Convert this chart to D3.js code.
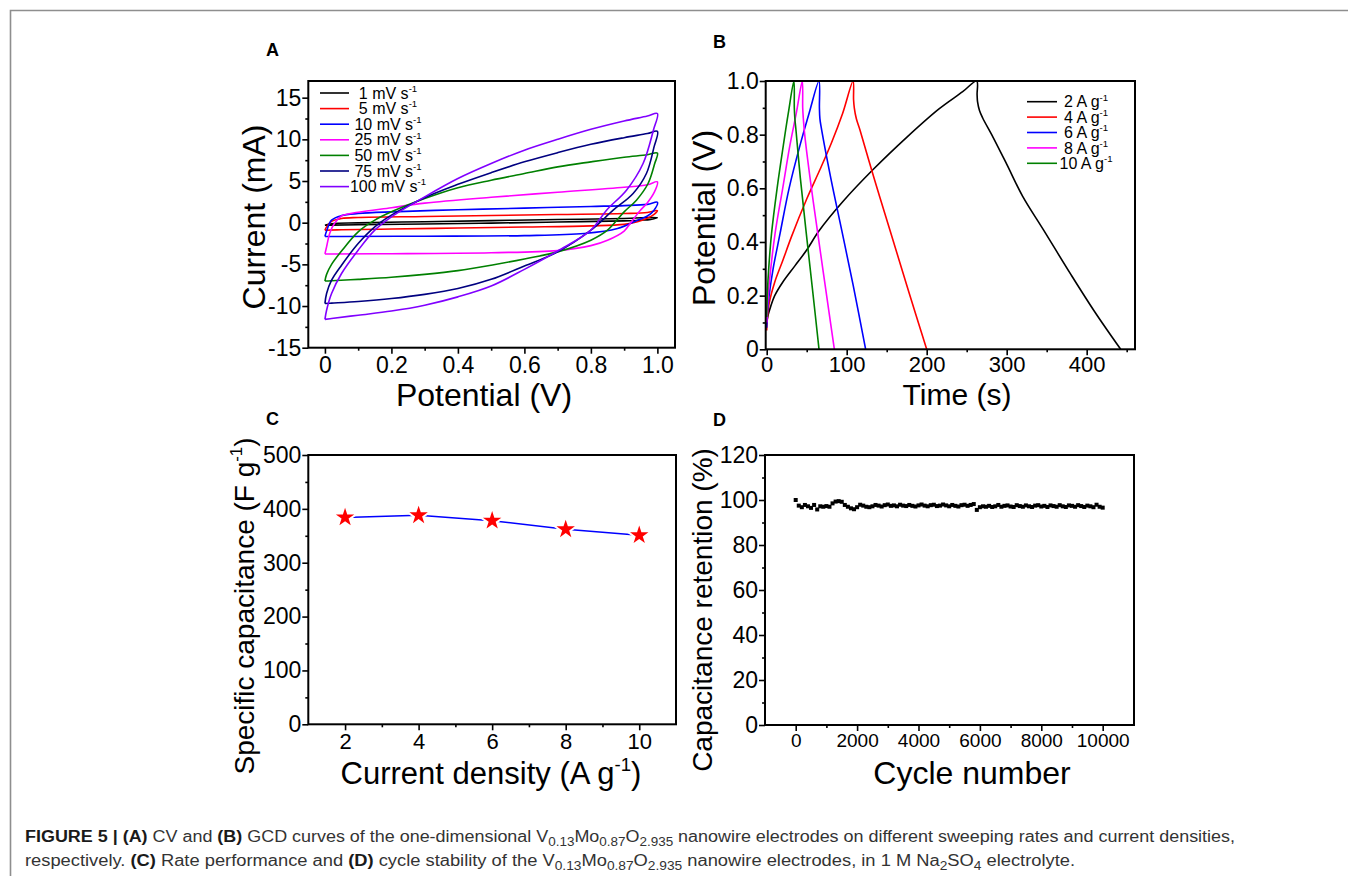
<!DOCTYPE html>
<html><head><meta charset="utf-8">
<script src="https://cdn.jsdelivr.net/npm/d3@7"></script>
<style>
body{margin:0;background:#fff}
svg{display:block}
text{font-family:"Liberation Sans",Arial,Helvetica,sans-serif}
</style></head>
<body><svg id="c" width="1348" height="876"></svg>
<script>
// ---------------- DATA ----------------
// Panel A: CV loops [potential V, current mA] (forward sweep then reverse)
const cvLabels = ["1", "5", "10", "25", "50", "75", "100"];
const cv1 = [[0,-0.3],[0.02,-0.12],[0.1,-0.02],[0.3,0.12],[0.5,0.25],[0.7,0.38],[0.9,0.5],[1.0,0.62],[0.98,0.4],[0.95,0.3],[0.9,0.22],[0.7,0.08],[0.5,-0.05],[0.3,-0.15],[0.1,-0.25],[0.02,-0.29],[0,-0.3]];
const cv5 = [[0,-0.9],[0.005,-0.5],[0.02,0.15],[0.05,0.5],[0.1,0.62],[0.3,0.74],[0.5,0.86],[0.7,0.98],[0.9,1.1],[0.97,1.22],[1.0,1.45],[0.99,1.0],[0.97,0.55],[0.94,0.1],[0.9,-0.2],[0.8,-0.38],[0.6,-0.52],[0.4,-0.64],[0.2,-0.76],[0.05,-0.85],[0,-0.9]];
const cv10 = [[0,-1.65],[0.005,-1.0],[0.02,0.3],[0.05,0.85],[0.1,1.1],[0.2,1.3],[0.4,1.55],[0.6,1.75],[0.8,1.95],[0.9,2.05],[0.97,2.2],[1.0,2.45],[0.99,1.5],[0.97,0.8],[0.94,0.3],[0.88,-0.7],[0.78,-1.3],[0.6,-1.55],[0.3,-1.62],[0.05,-1.65],[0,-1.65]];
const cv25 = [[0,-3.75],[0.005,-2.9],[0.015,-1.2],[0.03,0.0],[0.05,0.8],[0.1,1.25],[0.2,1.8],[0.3,2.35],[0.5,3.05],[0.7,3.65],[0.9,4.25],[0.97,4.55],[1.0,4.9],[0.99,3.6],[0.97,2.4],[0.947,1.4],[0.92,0.0],[0.9,-1.0],[0.85,-2.1],[0.8,-2.75],[0.7,-3.35],[0.5,-3.6],[0.2,-3.72],[0.02,-3.75],[0,-3.75]];
const cv50 = [[0,-7.0],[0.005,-6.2],[0.02,-5.0],[0.05,-3.4],[0.1,-1.1],[0.15,0.3],[0.2,1.3],[0.3,2.9],[0.4,4.2],[0.5,5.1],[0.6,5.9],[0.7,6.7],[0.8,7.3],[0.9,7.85],[0.97,8.15],[1.0,8.35],[0.992,7.1],[0.972,4.7],[0.937,2.7],[0.9,1.3],[0.85,-0.9],[0.8,-2.1],[0.7,-3.5],[0.6,-4.35],[0.5,-5.1],[0.4,-5.75],[0.3,-6.2],[0.2,-6.55],[0.1,-6.8],[0.02,-6.97],[0,-7.0]];
const cv75 = [[0,-9.7],[0.005,-8.5],[0.02,-6.9],[0.05,-5.1],[0.1,-2.5],[0.15,-0.5],[0.2,0.9],[0.3,3.0],[0.4,4.6],[0.5,6.0],[0.6,7.3],[0.7,8.4],[0.8,9.4],[0.9,10.2],[0.97,10.7],[1.0,10.95],[0.99,9.1],[0.967,5.9],[0.927,3.5],[0.867,1.5],[0.8,-0.9],[0.7,-3.5],[0.6,-5.2],[0.5,-6.8],[0.4,-7.9],[0.3,-8.6],[0.2,-9.1],[0.1,-9.45],[0.02,-9.65],[0,-9.7]];
const cv100 = [[0,-11.6],[0.005,-10.5],[0.02,-8.5],[0.05,-6.1],[0.1,-3.3],[0.15,-0.9],[0.2,0.7],[0.3,3.1],[0.4,5.3],[0.5,7.1],[0.6,8.7],[0.7,10.0],[0.8,11.2],[0.9,12.2],[0.97,12.8],[1.0,13.1],[0.988,11.1],[0.957,7.1],[0.907,3.9],[0.847,1.5],[0.8,-0.9],[0.7,-3.4],[0.6,-5.6],[0.5,-7.6],[0.4,-8.9],[0.3,-9.9],[0.2,-10.6],[0.1,-11.1],[0.02,-11.5],[0,-11.6]];
const cvColors = ["#000000","#ff0000","#0000ff","#ff00ff","#008000","#000080","#8000ff"];

// Panel B: GCD curves [time s, potential V]
const gcdLabels = ["2", "4", "6", "8", "10"];
const gcd2 = [[0,0.1],[2,0.13],[5,0.16],[10,0.2],[20,0.25],[35,0.31],[50,0.37],[65,0.44],[95,0.55],[133,0.67],[175,0.79],[215,0.895],[245,0.96],[262.5,1.0],[263,0.95],[263.6,0.922],[266,0.89],[270,0.862],[283,0.79],[300,0.69],[320,0.57],[346,0.445],[380,0.28],[410,0.14],[442.5,0]];
const gcd4 = [[0,0.07],[1,0.12],[3,0.17],[10,0.25],[20,0.33],[31,0.42],[50,0.56],[66.6,0.67],[81,0.77],[95,0.88],[108,1.0],[108.6,0.93],[109.5,0.9],[112,0.86],[116.6,0.817],[135,0.63],[154,0.445],[177,0.22],[200,0]];
const gcd6 = [[0,0.08],[1,0.14],[3,0.2],[8,0.3],[16.6,0.43],[28,0.6],[41.6,0.76],[53,0.88],[65.4,1.0],[65.9,0.9],[66.5,0.86],[68,0.83],[80,0.64],[93.7,0.445],[108,0.24],[123.7,0]];
const gcd8 = [[0,0.1],[1,0.16],[3,0.24],[10.4,0.43],[20,0.6],[29,0.76],[37,0.88],[44.5,1.0],[45,0.9],[45.8,0.86],[47.5,0.8],[55,0.62],[62.5,0.46],[73,0.24],[84.6,0]];
const gcd10 = [[0,0.12],[1,0.22],[2.5,0.3],[6,0.43],[13,0.6],[20.8,0.76],[27,0.88],[34,1.0],[34.5,0.9],[35.2,0.86],[36.5,0.82],[42,0.64],[49,0.445],[57,0.23],[65.4,0]];
const gcdColors = ["#000000","#ff0000","#0000ff","#ff00ff","#008000"];

// Panel C: rate performance
const currentDensity = [2, 4, 6, 8, 10];
const specCap = [384, 388, 378, 362, 351];

// Panel D: cycle stability
const cycles = [0,100,200,300,400,500,600,700,800,900,1000,1100,1200,1300,1400,1500,1600,1700,1800,1900,2000,2100,2200,2300,2400,2500,2600,2700,2800,2900,3000,3100,3200,3300,3400,3500,3600,3700,3800,3900,4000,4100,4200,4300,4400,4500,4600,4700,4800,4900,5000,5100,5200,5300,5400,5500,5600,5700,5800,5900,6000,6100,6200,6300,6400,6500,6600,6700,6800,6900,7000,7100,7200,7300,7400,7500,7600,7700,7800,7900,8000,8100,8200,8300,8400,8500,8600,8700,8800,8900,9000,9100,9200,9300,9400,9500,9600,9700,9800,9900,10000];
const retention = [100,97.5,96.8,97.8,97.2,96.5,97.8,95.8,97.2,97.0,97.3,97.0,98.5,99.3,99.5,99.2,97.8,97.0,96.3,95.9,96.8,97.9,97.5,97.0,96.8,97.2,97.8,97.5,97.1,97.7,98.0,97.4,97.6,97.2,97.9,97.5,97.3,97.8,97.4,97.1,97.6,98.0,97.5,97.2,97.7,97.9,97.3,97.5,98.0,97.6,97.2,97.8,97.4,97.1,97.7,97.9,97.4,97.8,98.2,95.6,96.8,97.2,97.0,97.4,96.9,97.2,97.8,97.0,97.4,97.6,97.1,96.9,97.7,97.3,97.0,97.6,97.2,96.9,97.5,97.7,97.1,97.4,96.9,97.6,97.3,97.0,97.7,97.2,96.9,97.6,97.4,97.0,97.7,97.3,96.9,97.5,97.2,96.8,97.9,97.0,96.6];

// Tick values
const aXTicks = [0, 0.2, 0.4, 0.6, 0.8, 1.0];
const aYTicks = [-15, -10, -5, 0, 5, 10, 15];
const bXTicks = [0, 100, 200, 300, 400];
const bYTicks = [0, 0.2, 0.4, 0.6, 0.8, 1.0];
const cXTicks = [2, 4, 6, 8, 10];
const cYTicks = [0, 100, 200, 300, 400, 500];
const dXTicks = [0, 2000, 4000, 6000, 8000, 10000];
const dYTicks = [0, 20, 40, 60, 80, 100, 120];

// ---------------- DRAW ----------------
const svg = d3.select("#c");
svg.append("path").attr("d","M10.5,876 V10.5 H1348").attr("fill","none")
   .attr("stroke","#8e8e8e").attr("stroke-width",1.6);

function styleAxis(sel, fs){
  sel.select(".domain").remove();
  sel.selectAll(".tick line").attr("stroke","#000").attr("stroke-width",1.6);
  if(fs === null){ sel.selectAll(".tick text").remove(); return; }
  sel.selectAll(".tick text").attr("fill","#000").style("font-size",fs+"px")
     .style("font-family",'"Liberation Sans",Arial,sans-serif');
}

function makePanel(o){
  const g = svg.append("g");
  const x = d3.scaleLinear().domain(o.xd).range([o.l, o.r]);
  const y = d3.scaleLinear().domain(o.yd).range([o.b, o.t]);
  const fmtX = o.fx || (d=>String(d));
  const fmtY = o.fy || (d=>String(d));
  g.append("g").attr("transform",`translate(0,${o.b})`)
    .call(d3.axisBottom(x).tickValues(o.xMinor).tickSize(3))
    .call(s=>styleAxis(s,null));
  g.append("g").attr("transform",`translate(${o.l},0)`)
    .call(d3.axisLeft(y).tickValues(o.yMinor).tickSize(3))
    .call(s=>styleAxis(s,null));
  g.append("g").attr("transform",`translate(0,${o.b})`)
    .call(d3.axisBottom(x).tickValues(o.xTicks).tickSize(6).tickPadding(o.xpad ?? 3).tickFormat(fmtX))
    .call(s=>styleAxis(s,o.xfs));
  g.append("g").attr("transform",`translate(${o.l},0)`)
    .call(d3.axisLeft(y).tickValues(o.yTicks).tickSize(6).tickPadding(1).tickFormat(fmtY))
    .call(s=>styleAxis(s,o.yfs));
  const plot = g.append("g");
  g.append("rect").attr("x",o.l).attr("y",o.t).attr("width",o.r-o.l).attr("height",o.b-o.t)
    .attr("fill","none").attr("stroke","#000").attr("stroke-width",2);
  g.append("text").attr("x",o.letterX).attr("y",o.letterY).text(o.letter)
    .style("font-size","18px").style("font-weight","bold");
  return {g, plot, x, y};
}

function addTitle(g, parts, x, y, fs, rotate){
  const t = g.append("text").attr("text-anchor","middle").style("font-size",fs+"px").attr("fill","#000");
  if(rotate) t.attr("transform",`translate(${x},${y}) rotate(-90)`);
  else t.attr("x",x).attr("y",y);
  let raised = 0;
  parts.forEach(p=>{
    if(p.sup){
      raised = fs*0.42;
      t.append("tspan").attr("dy",-raised).style("font-size",(fs*0.6)+"px").text(p.sup);
    } else {
      const ts = t.append("tspan").text(p.t);
      if(raised){ ts.attr("dy", raised); raised = 0; }
    }
  });
  return t;
}

const dec1 = d => d===0 ? "0" : d3.format(".1f")(d);

// ---- Panel A ----
const A = makePanel({l:308.3, r:675, t:81, b:347.7, xd:[-0.05,1.053], yd:[-15,17],
  xTicks:aXTicks, yTicks:aYTicks, xMinor:[0.1,0.3,0.5,0.7,0.9], yMinor:[-12.5,-7.5,-2.5,2.5,7.5,12.5],
  xfs:23, yfs:23, fx:dec1, letter:"A", letterX:266, letterY:56});
const cvSeries = [cv1, cv5, cv10, cv25, cv50, cv75, cv100];
const lineA = d3.line().x(d=>A.x(d[0])).y(d=>A.y(d[1])).curve(d3.curveCatmullRom.alpha(0.5));
cvSeries.forEach((s,i)=>{
  A.plot.append("path").attr("d",lineA(s)).attr("fill","none").attr("stroke",cvColors[i]).attr("stroke-width",1.6);
});
cvLabels.forEach((lab,i)=>{
  const yy = 93 + i*15.6;
  A.g.append("line").attr("x1",320).attr("x2",349).attr("y1",yy).attr("y2",yy)
    .attr("stroke",cvColors[i]).attr("stroke-width",1.6);
  addTitle(A.g, [{t:lab+" mV s"},{sup:"-1"}], 388, yy+5.6, 16, false);
});
addTitle(A.g, [{t:"Potential (V)"}], 484, 406, 32, false);
addTitle(A.g, [{t:"Current (mA)"}], 265, 217, 32, true);

// ---- Panel B ----
const B = makePanel({l:765.7, r:1135, t:81, b:349.3, xd:[-1.25,460.4], yd:[0,1],
  xTicks:bXTicks, yTicks:bYTicks, xMinor:[50,150,250,350,450], yMinor:[0.1,0.3,0.5,0.7,0.9],
  xfs:22, yfs:23, xpad:1.5, fy:dec1, letter:"B", letterX:713, letterY:48});
const gcdSeries = [gcd2, gcd4, gcd6, gcd8, gcd10];
const lineB = d3.line().x(d=>B.x(d[0])).y(d=>B.y(d[1])).curve(d3.curveCatmullRom.alpha(0.5));
gcdSeries.forEach((s,i)=>{
  B.plot.append("path").attr("d",lineB(s)).attr("fill","none").attr("stroke",gcdColors[i]).attr("stroke-width",1.6);
});
gcdLabels.forEach((lab,i)=>{
  const yy = 101.7 + i*15.4;
  B.g.append("line").attr("x1",1027).attr("x2",1057).attr("y1",yy).attr("y2",yy)
    .attr("stroke",gcdColors[i]).attr("stroke-width",1.6);
  addTitle(B.g, [{t:lab+" A g"},{sup:"-1"}], 1086, yy+5.6, 16, false);
});
addTitle(B.g, [{t:"Time (s)"}], 957, 405, 30, false);
addTitle(B.g, [{t:"Potential (V)"}], 715, 218, 32, true);

// ---- Panel C ----
const C = makePanel({l:308.3, r:676, t:455, b:724.3, xd:[1,11], yd:[0,500],
  xTicks:cXTicks, yTicks:cYTicks, xMinor:[3,5,7,9], yMinor:[50,150,250,350,450],
  xfs:22, yfs:23, letter:"C", letterX:266, letterY:425});
const lineC = d3.line().x((d,i)=>C.x(currentDensity[i])).y(d=>C.y(d));
C.plot.append("path").attr("d",lineC(specCap)).attr("fill","none").attr("stroke","#0000ff").attr("stroke-width",1.6);
C.plot.selectAll("path.star").data(specCap).join("path").attr("class","star")
  .attr("transform",(d,i)=>`translate(${C.x(currentDensity[i])},${C.y(d)})`)
  .attr("d",d3.symbol(d3.symbolStar,105)).attr("fill","#ff0000")
  .attr("stroke","#fff").attr("stroke-width",4).attr("paint-order","stroke");
addTitle(C.g, [{t:"Current density (A g"},{sup:"-1"},{t:")"}], 491, 784, 31, false);
addTitle(C.g, [{t:"Specific capacitance (F g"},{sup:"-1"},{t:")"}], 254, 606, 28, true);

// ---- Panel D ----
const D = makePanel({l:765, r:1134, t:455, b:725, xd:[-1000,11020], yd:[0,120],
  xTicks:dXTicks, yTicks:dYTicks, xMinor:[1000,3000,5000,7000,9000], yMinor:[10,30,50,70,90,110],
  xfs:19, yfs:23, letter:"D", letterX:713, letterY:426});
D.plot.selectAll("rect.pt").data(retention).join("rect").attr("class","pt")
  .attr("x",(d,i)=>D.x(cycles[i])-2).attr("y",d=>D.y(d)-2).attr("width",4).attr("height",4).attr("fill","#000");
addTitle(D.g, [{t:"Cycle number"}], 972, 784, 32, false);
addTitle(D.g, [{t:"Capacitance retention (%)"}], 712, 610, 28, true);

// ---- Caption ----
function caption(parts, x, y, width){
  const t = svg.append("text").attr("x",x).attr("y",y).style("font-size","16px").attr("fill","#333");
  let shift = 0;
  parts.forEach(p=>{
    const ts = t.append("tspan");
    if(p.sub){
      ts.attr("dy", 4 - shift).style("font-size","12px").text(p.sub); shift = 4;
    } else {
      if(shift){ ts.attr("dy", -shift); shift = 0; }
      ts.text(p.t);
      if(p.b) ts.style("font-weight","bold").attr("fill","#1a1a1a");
    }
  });
  t.attr("textLength", width).attr("lengthAdjust","spacingAndGlyphs");
}
caption([{t:"FIGURE 5 | (A)",b:1},{t:" CV and "},{t:"(B)",b:1},{t:" GCD curves of the one-dimensional V"},{sub:"0.13"},{t:"Mo"},{sub:"0.87"},{t:"O"},{sub:"2.935"},{t:" nanowire electrodes on different sweeping rates and current densities,"}], 25, 842, 1210);
caption([{t:"respectively. "},{t:"(C)",b:1},{t:" Rate performance and "},{t:"(D)",b:1},{t:" cycle stability of the V"},{sub:"0.13"},{t:"Mo"},{sub:"0.87"},{t:"O"},{sub:"2.935"},{t:" nanowire electrodes, in 1 M Na"},{sub:"2"},{t:"SO"},{sub:"4"},{t:" electrolyte."}], 25, 866, 1050);
</script></body></html>
